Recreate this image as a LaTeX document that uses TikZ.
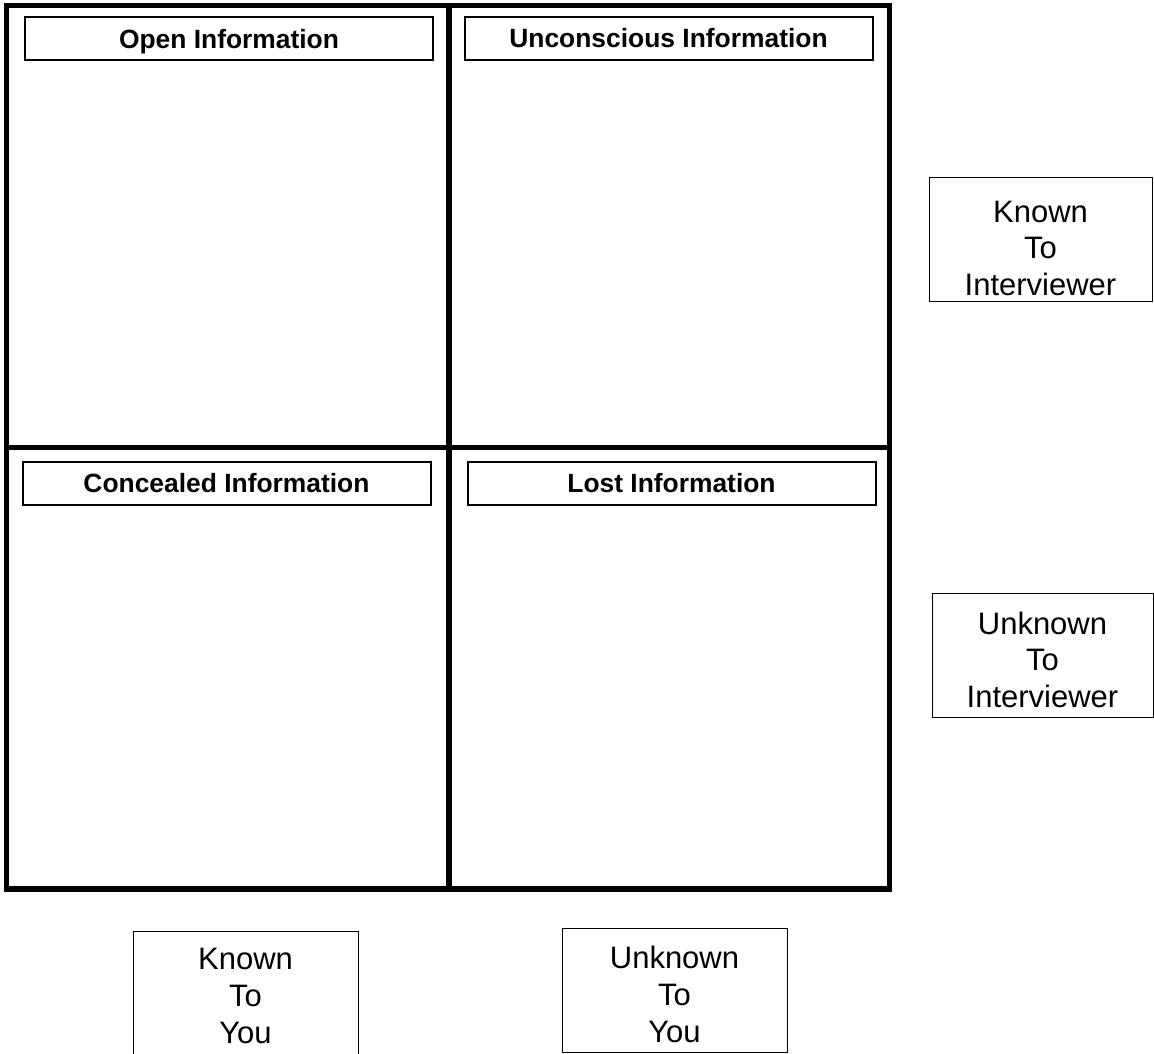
\documentclass[tikz,border=0pt]{standalone}
\usepackage{fontspec}
\setmainfont{Liberation Sans}

\newcommand{\sidegap}[1][40pt]{\rule{0pt}{#1}}

\tikzset{
  quadline/.style={line width=5.5pt},
  header/.style={draw,line width=2pt,minimum width=408pt,minimum height=43pt,inner sep=0pt,
    text height=19pt,text depth=0pt,font=\bfseries\fontsize{26.4}{30}\selectfont},
  side/.style={draw,line width=1pt,minimum width=223pt,minimum height=124pt,inner sep=0pt,
    align=center,font=\fontsize{31}{36.7}\selectfont}
}

\begin{document}
\begin{tikzpicture}[x=1pt,y=-1pt]
\clip (0,0) rectangle (1154,1054);

\draw[quadline] (6.5,5.5) rectangle (889.5,889);
\draw[quadline] (449,5.5) -- (449,889);
\draw[quadline] (6.5,447.5) -- (889.5,447.5);

\node[header] (open) at (229,39) {Open Information};
\node[header] (unconscious) at (668.5,38.5) {Unconscious Information};
\node[header] (concealed) at (226.5,483) {Concealed Information};
\node[header] (lost) at (671.5,483) {Lost Information};

\node[side] (knownint) at (1040.5,239) {\sidegap Known\\To\\Interviewer};
\node[side,minimum width=221pt] (unknownint) at (1042.5,655) {\sidegap[32pt]Unknown\\To\\Interviewer};
\node[side,minimum width=225pt,minimum height=130pt] (knownyou) at (245.5,996) {Known\\To\\You};
\node[side,minimum width=225pt] (unknownyou) at (674.5,990) {\sidegap[31pt]Unknown\\To\\You};

\end{tikzpicture}
\end{document}
